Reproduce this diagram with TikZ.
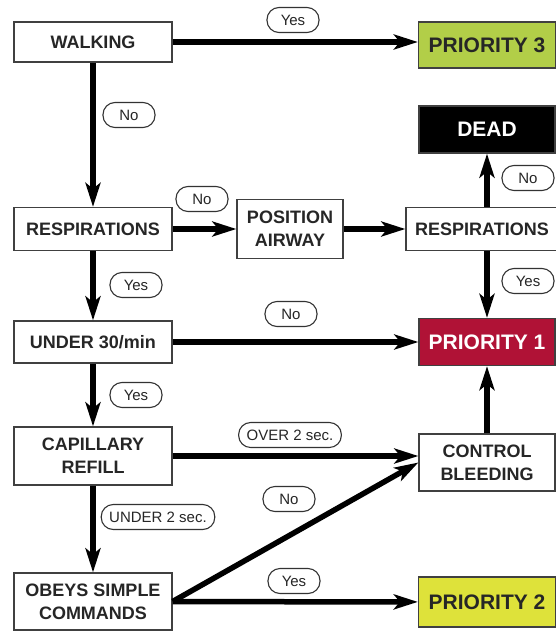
\documentclass[tikz,border=0pt]{standalone}
\usepackage{fontspec}
\setmainfont{Liberation Sans}
\usetikzlibrary{positioning,arrows.meta}
\tikzset{
  >={Stealth[length=24pt,width=15pt,inset=6pt]},
  flow/.style    ={line width=5.5pt, ->},
  stepbox/.style ={draw=black!75, line width=1.3pt, fill=white, text=black!85,
                   font=\fontsize{18}{23}\selectfont\bfseries, align=center, inner sep=0pt},
  prio/.style    ={stepbox, font=\fontsize{21}{25}\selectfont\bfseries},
  tag/.style     ={draw=black!80, line width=1.1pt, rounded corners=12pt, fill=white,
                   text=black!85, font=\fontsize{15}{17}\selectfont,
                   minimum width=52pt, minimum height=25pt, inner xsep=8pt, inner ysep=0pt},
}
\definecolor{prithree}{RGB}{178,206,72}
\definecolor{pritwo}{RGB}{222,226,58}
\definecolor{prione}{RGB}{176,18,54}

\begin{document}
\begin{tikzpicture}[x=1pt,y=-1pt]
  \useasboundingbox (0,0) rectangle (556,632);

  % left column
  \node[stepbox, minimum width=158pt, minimum height=40pt] (walk)  at (93,42)    {WALKING};
  \node[stepbox, minimum width=158pt, minimum height=43pt] (respl) at (93,229)   {RESPIRATIONS};
  \node[stepbox, minimum width=158pt, minimum height=42pt] (u30)   at (93,342)   {UNDER 30/min};
  \node[stepbox, minimum width=158pt, minimum height=58pt] (cap)   at (93,456)   {CAPILLARY\\REFILL};
  \node[stepbox, minimum width=158pt, minimum height=57pt] (obey)  at (93,601.5) {OBEYS SIMPLE\\COMMANDS};

  % middle
  \node[stepbox, minimum width=106pt, minimum height=59pt] (airway) at (290,229) {POSITION\\AIRWAY};

  % right column
  \node[prio, fill=prithree, minimum width=137pt, minimum height=46pt] (p3) at (487,45) {PRIORITY 3};
  \node[prio, fill=black, text=white, minimum width=136pt, minimum height=47pt] (dead) at (487,129.5) {DEAD};
  \node[stepbox, minimum width=152pt, minimum height=43pt, text width=150pt] (respr) at (482,229) {RESPIRATIONS};
  \node[prio, fill=prione, text=white, minimum width=136pt, minimum height=47pt] (p1) at (487,342) {PRIORITY 1};
  \node[stepbox, minimum width=136pt, minimum height=57pt] (ctrl) at (487,462.5) {CONTROL\\BLEEDING};
  \node[prio, fill=pritwo, minimum width=137pt, minimum height=50pt] (p2) at (487,602) {PRIORITY 2};

  % arrows
  \draw[flow] (walk.east) -- (walk.east -| p3.west);
  \draw[flow] (walk) -- (respl);
  \draw[flow] (respl) -- (airway);
  \draw[flow] (airway) -- (respr);
  \draw[flow] (respr.north -| dead) -- (dead);
  \draw[flow] (respr.south -| p1) -- (p1);
  \draw[flow] (respl) -- (u30);
  \draw[flow] (u30) -- (p1);
  \draw[flow] (u30) -- (cap);
  \draw[flow] (cap.east) -- (cap.east -| ctrl.west);
  \draw[flow] (ctrl) -- (p1);
  \draw[flow] (cap) -- (obey);
  \draw[flow] (obey.east) -- (ctrl.west);
  \draw[flow] (obey) -- (p2);

  % answers
  \node[tag] (yesA)  at (293,20)  {Yes};
  \node[tag] (noA)   at (129,115) {No};
  \node[tag] (noB)   at (202,199) {No};
  \node[tag] (noC)   at (528,178) {No};
  \node[tag] (yesB)  at (136,285) {Yes};
  \node[tag] (yesC)  at (528,281) {Yes};
  \node[tag] (noD)   at (291,314) {No};
  \node[tag] (yesD)  at (136,395) {Yes};
  \node[tag] (over)  at (290,435) {OVER 2 sec.};
  \node[tag] (under) at (158,517) {UNDER 2 sec.};
  \node[tag] (noE)   at (289,499) {No};
  \node[tag] (yesE)  at (294,581) {Yes};
\end{tikzpicture}
\end{document}
